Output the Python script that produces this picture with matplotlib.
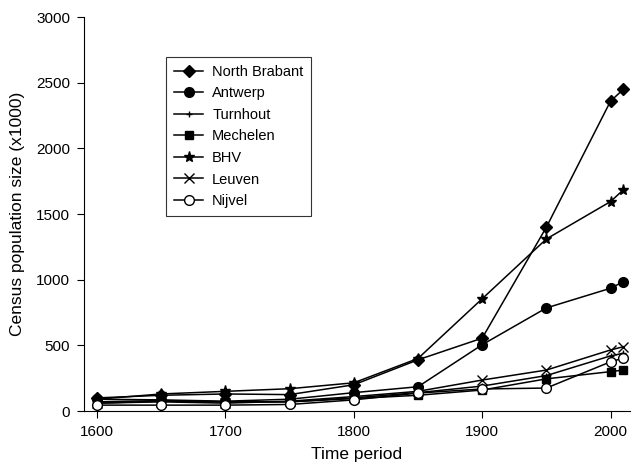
import matplotlib
matplotlib.use('agg')
import matplotlib.pyplot as plt

plt.rcParams['font.family'] = ['Liberation Sans', 'DejaVu Sans']

years = [1600, 1650, 1700, 1750, 1800, 1850, 1900, 1950, 2000, 2010]

north_brabant = [100, 120, 130, 125, 200, 390, 555, 1400, 2360, 2450]
antwerp = [90, 85, 75, 90, 140, 185, 505, 785, 935, 985]
turnhout = [60, 75, 70, 70, 100, 140, 190, 270, 420, 440]
mechelen = [70, 80, 70, 70, 95, 120, 160, 245, 300, 312]
bhv = [90, 130, 150, 170, 215, 400, 855, 1310, 1595, 1685]
leuven = [60, 70, 60, 75, 110, 150, 236, 312, 465, 490]
nijvel = [45, 45, 45, 50, 85, 137, 168, 175, 375, 403]

series = [
    ('North Brabant', north_brabant, 'D', 6, 'black'),
    ('Antwerp', antwerp, 'o', 7, 'black'),
    ('Turnhout', turnhout, '+', 5, 'black'),
    ('Mechelen', mechelen, 's', 6, 'black'),
    ('BHV', bhv, '*', 8, 'black'),
    ('Leuven', leuven, 'x', 7, 'black'),
    ('Nijvel', nijvel, 'o', 7, 'white'),
]

fig = plt.figure(figsize=(6.33, 4.73), dpi=100)
ax = fig.add_axes([0.133, 0.131, 0.862, 0.833])

for name, vals, mk, ms, fc in series:
    ax.plot(years, vals, color='black', lw=1.1, marker=mk, markersize=ms,
            markerfacecolor=fc, markeredgecolor='black', markeredgewidth=1.0,
            label=name)

ax.set_xlim(1590, 2015)
ax.set_ylim(0, 3000)
ax.set_xticks([1600, 1700, 1800, 1900, 2000])
ax.set_yticks([0, 500, 1000, 1500, 2000, 2500, 3000])
ax.spines['top'].set_visible(False)
ax.spines['right'].set_visible(False)
ax.tick_params(direction='out', length=5, labelsize=11, pad=5)
ax.set_xlabel('Time period', fontsize=12.5, labelpad=6)
ax.set_ylabel('Census population size (x1000)', fontsize=12.5, labelpad=8)

leg = ax.legend(loc='upper left', bbox_to_anchor=(0.137, 0.918), fontsize=10.5,
                frameon=True, fancybox=False, edgecolor='black',
                handlelength=2.0, handletextpad=0.6, borderpad=0.55,
                labelspacing=0.52)
leg.get_frame().set_linewidth(0.8)

fig.savefig('out.png', dpi=100)
